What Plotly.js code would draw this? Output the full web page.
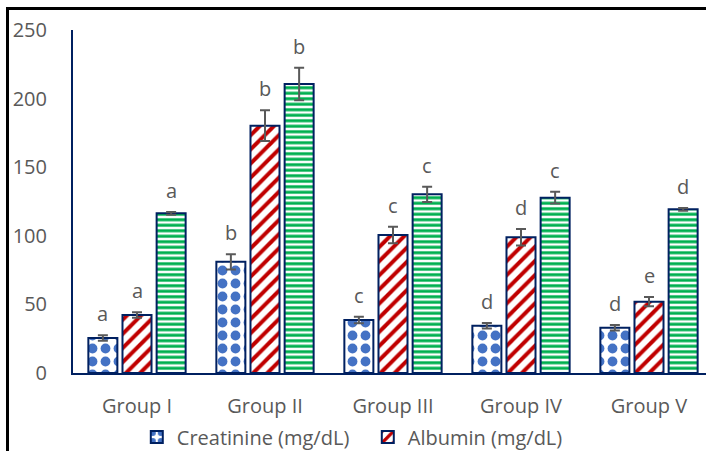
<!DOCTYPE html>
<html>
<head>
<meta charset="utf-8">
<script src="https://cdn.plot.ly/plotly-3.0.1.min.js"></script>
<style>
  html, body { margin: 0; padding: 0; overflow: hidden; background: #fff; }
  #chart { position: absolute; left: 0; top: 0; }
  #frame { position: absolute; left: 6px; top: 7px; width: 800px; height: 600px;
           border-left: 3px solid #000; border-top: 3px solid #000; pointer-events: none; }
</style>
</head>
<body>
<div id="chart"></div>
<div id="frame"></div>
<script>
const categories = ['Group I', 'Group II', 'Group III', 'Group IV', 'Group V'];
const creatinine = [25.5, 81, 38.6, 34.5, 33];
const creatinineErr = [2, 5.6, 2.4, 2, 2];
const albumin = [42.3, 180.3, 100.6, 98.9, 52];
const albuminErr = [2, 11.2, 6, 6, 3.4];
const series3 = [116.4, 210.6, 130.2, 127.8, 119.3];
const series3Err = [1, 11.8, 5.6, 4.3, 1];
const creatinineLetters = ['a', 'b', 'c', 'd', 'd'];
const albuminLetters = ['a', 'b', 'c', 'd', 'e'];
const series3Letters = ['a', 'b', 'c', 'c', 'd'];
const yTicks = [0, 50, 100, 150, 200, 250];

const navy = '#002060';
const grey = '#595959';
const font = 'Open Sans, sans-serif';

function errObj(arr) {
  return { type: 'data', array: arr, visible: true, color: grey, thickness: 2, width: 5 };
}

const traces = [
  {
    type: 'bar', name: 'Creatinine (mg/dL)', x: categories, y: creatinine,
    error_y: errObj(creatinineErr),
    marker: { color: '#ffffff', line: { color: navy, width: 2 },
      pattern: { shape: '.', fgcolor: '#4472C4', bgcolor: '#ffffff', fgopacity: 1, size: 13, solidity: 0.45, fillmode: 'replace' } }
  },
  {
    type: 'bar', name: 'Albumin (mg/dL)', x: categories, y: albumin,
    error_y: errObj(albuminErr),
    marker: { color: '#ffffff', line: { color: navy, width: 2 },
      pattern: { shape: '/', fgcolor: '#C00000', bgcolor: '#ffffff', fgopacity: 1, size: 10, solidity: 0.4, fillmode: 'replace' } }
  },
  {
    type: 'bar', name: 'Series 3', x: categories, y: series3, showlegend: false,
    error_y: errObj(series3Err),
    marker: { color: '#ffffff', line: { color: navy, width: 2 },
      pattern: { shape: '-', fgcolor: '#00B050', bgcolor: '#ffffff', fgopacity: 1, size: 5.5, solidity: 0.55, fillmode: 'replace' } }
  }
];

const groupWidth = 0.8;
const slot = groupWidth / 3;
const annotations = [];
[[creatinine, creatinineErr, creatinineLetters], [albumin, albuminErr, albuminLetters], [series3, series3Err, series3Letters]]
  .forEach(function (s, j) {
    s[0].forEach(function (v, i) {
      annotations.push({
        x: i + (j - 1) * slot, y: v + s[1][i], xref: 'x', yref: 'y',
        text: s[2][i], showarrow: false, yanchor: 'bottom', yshift: 6,
        font: { family: font, size: 20, color: grey }
      });
    });
  });

const layout = {
  width: 720, height: 451,
  margin: { l: 73, r: 7, t: 30, b: 78, autoexpand: false },
  paper_bgcolor: '#ffffff', plot_bgcolor: '#ffffff',
  barmode: 'group', bargap: 0.2, bargroupgap: 0.15,
  showlegend: true,
  legend: { orientation: 'h', xref: 'container', yref: 'container',
            x: 0.19, xanchor: 'left', y: 0.031, yanchor: 'middle',
            entrywidth: 186, entrywidthmode: 'pixels',
            font: { family: font, size: 20, color: grey }, bgcolor: 'rgba(0,0,0,0)' },
  xaxis: {
    type: 'category', showline: true, linecolor: navy, linewidth: 2, ticks: '',
    showgrid: false, zeroline: false, ticklabelstandoff: 14, automargin: false,
    tickfont: { family: font, size: 20, color: grey }
  },
  yaxis: {
    range: [0, 250], tickvals: yTicks, showline: true, linecolor: navy, linewidth: 2,
    ticks: '', showgrid: false, zeroline: false, ticklabelstandoff: 20, automargin: false,
    tickfont: { family: font, size: 20, color: grey }
  },
  annotations: annotations
};

Plotly.newPlot('chart', traces, layout, { displayModeBar: false, staticPlot: true });
</script>
</body>
</html>
